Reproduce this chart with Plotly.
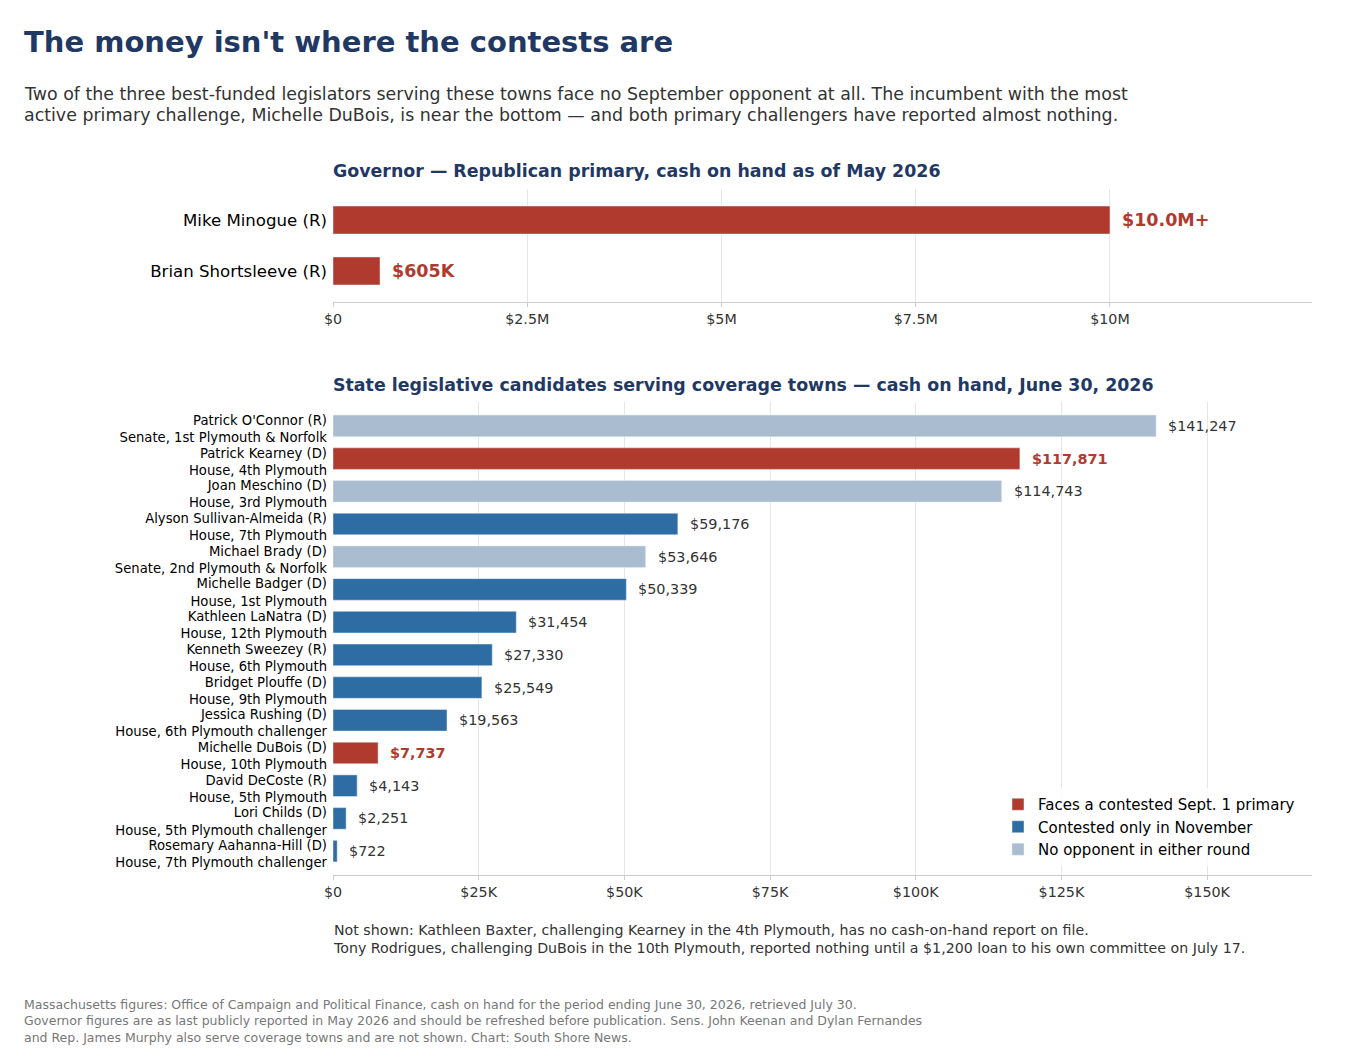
import plotly.graph_objects as go

W, H = 1360, 1060

RED = "#b03a2e"
BLUE = "#2e6da4"
GREY = "#a9bcd0"
NAVY = "#1f3864"

# Governor race
GOV_NAMES = ["Mike Minogue (R)", "Brian Shortsleeve (R)"]
GOV_CASH = [10_000_000, 605_000]
GOV_LABELS = ["$10.0M+", "$605K"]
GOV_TICKS = [0, 2_500_000, 5_000_000, 7_500_000, 10_000_000]
GOV_TICKTEXT = ["$0", "$2.5M", "$5M", "$7.5M", "$10M"]

# State legislative candidates
LEG_NAMES = [
    "Patrick O'Connor (R)", "Patrick Kearney (D)", "Joan Meschino (D)",
    "Alyson Sullivan-Almeida (R)", "Michael Brady (D)", "Michelle Badger (D)",
    "Kathleen LaNatra (D)", "Kenneth Sweezey (R)", "Bridget Plouffe (D)",
    "Jessica Rushing (D)", "Michelle DuBois (D)", "David DeCoste (R)",
    "Lori Childs (D)", "Rosemary Aahanna-Hill (D)",
]
LEG_SEATS = [
    "Senate, 1st Plymouth & Norfolk", "House, 4th Plymouth", "House, 3rd Plymouth",
    "House, 7th Plymouth", "Senate, 2nd Plymouth & Norfolk", "House, 1st Plymouth",
    "House, 12th Plymouth", "House, 6th Plymouth", "House, 9th Plymouth",
    "House, 6th Plymouth challenger", "House, 10th Plymouth", "House, 5th Plymouth",
    "House, 5th Plymouth challenger", "House, 7th Plymouth challenger",
]
LEG_CASH = [141247, 117871, 114743, 59176, 53646, 50339, 31454,
            27330, 25549, 19563, 7737, 4143, 2251, 722]
LEG_STATUS = ["none", "primary", "none", "nov", "none", "nov", "nov",
              "nov", "nov", "nov", "primary", "nov", "nov", "nov"]
LEG_TICKS = [0, 25000, 50000, 75000, 100000, 125000, 150000]
LEG_TICKTEXT = ["$0", "$25K", "$50K", "$75K", "$100K", "$125K", "$150K"]

STATUS_ORDER = [
    ("primary", "Faces a contested Sept. 1 primary", RED),
    ("nov", "Contested only in November", BLUE),
    ("none", "No opponent in either round", GREY),
]

SUBTITLE = [
    "Two of the three best-funded legislators serving these towns face no September opponent at all. The incumbent with the most",
    "active primary challenge, Michelle DuBois, is near the bottom — and both primary challengers have reported almost nothing.",
]

leg_cats = [f"{n}<br>{s}" for n, s in zip(LEG_NAMES, LEG_SEATS)]

# page pixel -> paper (the page body adds an 8px offset)
OFF = 8

def px_x(p):
    return (p - OFF) / W

def px_y(p):
    return 1 - (p - OFF) / H

fig = go.Figure()

fig.add_trace(go.Bar(
    x=GOV_CASH, y=GOV_NAMES, orientation="h",
    marker_color=RED, width=0.55, showlegend=False,
    xaxis="x", yaxis="y", hoverinfo="skip",
))

for key, name, color in STATUS_ORDER:
    xs = [c for c, st in zip(LEG_CASH, LEG_STATUS) if st == key]
    ys = [c for c, st in zip(leg_cats, LEG_STATUS) if st == key]
    fig.add_trace(go.Bar(
        x=xs, y=ys, orientation="h", name=name,
        marker_color=color, width=0.66,
        xaxis="x2", yaxis="y2", hoverinfo="skip",
    ))

annotations = []
for v, lab, nm in zip(GOV_CASH, GOV_LABELS, GOV_NAMES):
    annotations.append(dict(
        x=v, y=nm, xref="x", yref="y", text=f"<b>{lab}</b>",
        showarrow=False, xanchor="left", xshift=10,
        font=dict(size=17.5, color=RED),
    ))
for v, st, cat in zip(LEG_CASH, LEG_STATUS, leg_cats):
    txt = f"${v:,}"
    if st == "primary":
        txt = f"<b>{txt}</b>"
    annotations.append(dict(
        x=v, y=cat, xref="x2", yref="y2", text=txt,
        showarrow=False, xanchor="left", xshift=10,
        font=dict(size=14.4, color=RED if st == "primary" else "#333333"),
    ))

# titles and notes
annotations.append(dict(
    x=px_x(22), y=px_y(42), xref="paper", yref="paper",
    text="<b>The money isn't where the contests are</b>",
    showarrow=False, xanchor="left", yanchor="middle",
    font=dict(size=29, color=NAVY)))
for line, ypx in zip(SUBTITLE, [94, 115]):
    annotations.append(dict(
        x=px_x(22), y=px_y(ypx), xref="paper", yref="paper", text=line,
        showarrow=False, xanchor="left", yanchor="middle",
        font=dict(size=17.4, color="#333333")))
annotations += [
    dict(x=px_x(331), y=px_y(171), xref="paper", yref="paper",
         text="<b>Governor — Republican primary, cash on hand as of May 2026</b>",
         showarrow=False, xanchor="left", yanchor="middle",
         font=dict(size=17.4, color=NAVY)),
    dict(x=px_x(331), y=px_y(385), xref="paper", yref="paper",
         text="<b>State legislative candidates serving coverage towns — cash on hand, June 30, 2026</b>",
         showarrow=False, xanchor="left", yanchor="middle",
         font=dict(size=17.4, color=NAVY)),
    dict(x=px_x(331), y=px_y(939), xref="paper", yref="paper",
         text="Not shown: Kathleen Baxter, challenging Kearney in the 4th Plymouth, has no cash-on-hand report on file.<br>"
              "Tony Rodrigues, challenging DuBois in the 10th Plymouth, reported nothing until a $1,200 loan to his own committee on July 17.",
         showarrow=False, xanchor="left", yanchor="middle", align="left",
         font=dict(size=14.2, color="#333333")),
    dict(x=px_x(22), y=px_y(1021), xref="paper", yref="paper",
         text="Massachusetts figures: Office of Campaign and Political Finance, cash on hand for the period ending June 30, 2026, retrieved July 30.<br>"
              "Governor figures are as last publicly reported in May 2026 and should be refreshed before publication. Sens. John Keenan and Dylan Fernandes<br>"
              "and Rep. James Murphy also serve coverage towns and are not shown. Chart: South Shore News.",
         showarrow=False, xanchor="left", yanchor="middle", align="left",
         font=dict(size=12.5, color="#777777")),
]

axis_common = dict(
    showgrid=True, gridcolor="#e6e6e6", gridwidth=1,
    showline=True, linecolor="#cccccc", linewidth=1,
    ticks="outside", ticklen=4, tickcolor="#cccccc",
    tickfont=dict(size=14.3, color="#333333"),
    zeroline=False, fixedrange=True, automargin=False,
)

fig.update_layout(
    width=W, height=H,
    margin=dict(l=0, r=0, t=0, b=0, autoexpand=False),
    paper_bgcolor="white", plot_bgcolor="white",
    font=dict(family="DejaVu Sans", color="#333333"),
    barmode="overlay",
    xaxis=dict(domain=[px_x(333), px_x(1312)], anchor="y",
               range=[0, 12_600_000], tickvals=GOV_TICKS, ticktext=GOV_TICKTEXT,
               **axis_common),
    yaxis=dict(domain=[px_y(302), px_y(189)], anchor="x",
               categoryorder="array", categoryarray=GOV_NAMES,
               range=[1.61, -0.61], showgrid=False, showline=False,
               ticks="", ticklabelstandoff=5, automargin=False,
               tickfont=dict(size=16.6, color="#000000"), fixedrange=True),
    xaxis2=dict(domain=[px_x(333), px_x(1312)], anchor="y2",
                range=[0, 168000], tickvals=LEG_TICKS, ticktext=LEG_TICKTEXT,
                **axis_common),
    yaxis2=dict(domain=[px_y(875), px_y(402)], anchor="x2",
                categoryorder="array", categoryarray=leg_cats,
                range=[13.73, -0.73], showgrid=False, showline=False,
                ticks="", ticklabelstandoff=5, ticklabelshift=-3, automargin=False,
                tickfont=dict(size=13.2, color="#000000"), fixedrange=True),
    legend=dict(x=px_x(1300), y=px_y(866), xanchor="right", yanchor="bottom",
                bgcolor="rgba(255,255,255,0.8)", font=dict(size=15, color="#000000"),
                tracegroupgap=0, itemwidth=30),
    annotations=annotations,
)

fig.write_html("out.html")
